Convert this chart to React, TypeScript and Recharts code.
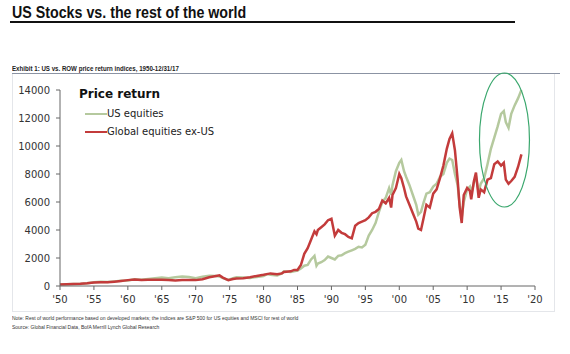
import { LineChart, Line, XAxis, YAxis, ReferenceDot } from 'recharts';

const years = [
  1950, 1951, 1952, 1953, 1954, 1955, 1956, 1957, 1958, 1959,
  1960, 1961, 1962, 1963, 1964, 1965, 1966, 1967, 1968, 1969,
  1970, 1971, 1972, 1973, 1973.5, 1974, 1974.8, 1975.5, 1976, 1977,
  1978, 1979, 1980, 1980.5, 1981, 1982, 1982.7, 1983, 1984, 1984.5,
  1985, 1985.5, 1986, 1986.5, 1987, 1987.5, 1987.8, 1988, 1988.5, 1989,
  1989.5, 1990, 1990.5, 1991, 1991.5, 1992, 1992.5, 1993, 1993.5, 1994,
  1994.5, 1995, 1995.5, 1996, 1996.5, 1997, 1997.5, 1998, 1998.5, 1998.8,
  1999, 1999.5, 2000, 2000.3, 2000.7, 2001, 2001.5, 2002, 2002.5, 2002.8,
  2003.2, 2003.6, 2004, 2004.5, 2005, 2005.5, 2006, 2006.5, 2007, 2007.4,
  2007.8, 2008.2, 2008.6, 2008.9, 2009.2, 2009.5, 2010, 2010.4, 2010.6, 2011,
  2011.3, 2011.7, 2012, 2012.5, 2013, 2013.5, 2014, 2014.5, 2015, 2015.4,
  2015.7, 2016.1, 2016.5, 2017, 2017.5, 2018,
];

const usEquities = [
  100, 120, 140, 150, 200, 270, 300, 280, 330, 380,
  400, 480, 440, 500, 560, 600, 560, 620, 680, 640,
  560, 660, 740, 720, 680, 560, 440, 560, 620, 600,
  580, 650, 720, 850, 800, 750, 900, 1050, 1000, 1050,
  1100, 1250, 1450, 1500, 1900, 2150, 1450, 1600, 1700, 1850,
  2100, 2000, 1900, 2150, 2200, 2350, 2450, 2550, 2650, 2800,
  2750, 2950, 3600, 4000, 4500, 5300, 6000, 6300, 7000, 6500,
  7200, 8200, 8800, 9000, 8200, 7800, 7200, 6500, 5800, 5100,
  5300, 6000, 6600, 6700, 7100, 7300, 7800, 8000, 8800, 9100,
  9000, 8000, 7200, 5800, 4900, 6000, 6900, 7100, 6600, 7400,
  7800, 6700, 7300, 7700, 8700, 9800, 10600, 11400, 12300, 12500,
  11700, 11300, 12300, 12900, 13400, 14000,
];

const globalExUS = [
  100, 130, 150, 160, 190, 250, 270, 260, 310, 360,
  420, 470, 430, 440, 450, 440, 420, 400, 420, 430,
  420, 480, 620, 720, 760, 600, 420, 500, 540, 560,
  620, 720, 800, 850, 900, 840, 900, 1000, 1050, 1150,
  1150, 1500, 2300, 2700, 3300, 3900, 3700, 4000, 4200, 4400,
  4700, 4800, 3600, 4000, 3800, 3700, 3500, 3400, 4300, 4500,
  4600, 4700, 4900, 5200, 5300, 5500, 6100, 5900, 6300, 5600,
  6500, 7000, 8000, 7700, 7000, 6400, 5800, 5200, 4600, 4100,
  4000, 4900, 5800, 5600, 6600, 6900, 7700, 8600, 9800, 10500,
  10900, 9700, 7600, 5600, 4500, 6500, 7000, 6800, 6200, 7500,
  8100, 6300, 6900, 6700, 7600, 7700, 8700, 8900, 8600, 8800,
  7600, 7300, 7500, 7800, 8500, 9400,
];

const yTicks = [0, 2000, 4000, 6000, 8000, 10000, 12000, 14000];
const xTicks = [1950, 1955, 1960, 1965, 1970, 1975, 1980, 1985, 1990, 1995, 2000, 2005, 2010, 2015, 2020];

const US_GREEN = '#b5c99e';
const ROW_RED = '#c33b3b';

const rows = years.map((year, i) => ({ year, us: usEquities[i], row: globalExUS[i] }));

const tickStyle = { fontFamily: 'DejaVu Sans', fontSize: 10, fill: '#333' };

// condensed look: normal sans squeezed horizontally
const narrow = (sx: number) => ({ transform: `scaleX(${sx})`, transformOrigin: 'left top', whiteSpace: 'nowrap' as const });

function Ellipse(props: any) {
  const { cx, cy } = props;
  return <ellipse cx={cx} cy={cy} rx={25} ry={67} fill="none" stroke="#3aa76d" strokeWidth={1.2} />;
}

export default function App() {
  return (
    <div style={{ position: 'absolute', left: 0, top: 0, width: 570, height: 354, background: '#fff', overflow: 'hidden' }}>
      <div style={{ position: 'absolute', left: 12, top: 4, lineHeight: '18px', fontFamily: 'Liberation Sans', fontWeight: 700, fontSize: 16, color: '#111', ...narrow(0.89) }}>
        US Stocks vs. the rest of the world
      </div>
      <div style={{ position: 'absolute', left: 10, top: 21, width: 505, height: 2, background: '#111' }} />
      <div style={{ position: 'absolute', left: 12, top: 64, lineHeight: '9px', fontFamily: 'Liberation Sans', fontWeight: 700, fontSize: 7.5, color: '#222', ...narrow(0.82) }}>
        Exhibit 1: US vs. ROW price return indices, 1950-12/31/17
      </div>
      <div style={{ position: 'absolute', left: 12, top: 73, width: 548, height: 1, background: '#8b93a3' }} />
      <div style={{ position: 'absolute', left: 12, top: 74, width: 543, height: 238, borderLeft: '1px solid #e4e6ea', borderRight: '1px solid #e4e6ea', borderBottom: '1px solid #e4e6ea', boxSizing: 'border-box' }} />
      <div style={{ position: 'absolute', left: 0, top: 0 }}>
        <LineChart width={570} height={354} data={rows} margin={{ top: 90, right: 35, bottom: 38, left: 12 }}>
          <XAxis
            dataKey="year"
            type="number"
            domain={[1950, 2020]}
            ticks={xTicks}
            tickFormatter={(v: number) => `'${String(v).slice(2)}`}
            tick={tickStyle}
            tickSize={4}
            tickMargin={6}
            stroke="#666"
            height={30}
          />
          <YAxis
            domain={[0, 14000]}
            ticks={yTicks}
            tick={tickStyle}
            tickSize={4}
            tickMargin={6}
            stroke="#666"
            width={48}
          />
          <Line type="linear" dataKey="us" stroke={US_GREEN} strokeWidth={2.5} dot={false} isAnimationActive={false} />
          <Line type="linear" dataKey="row" stroke={ROW_RED} strokeWidth={2.5} dot={false} isAnimationActive={false} />
          <ReferenceDot x={2015.5} y={10430} shape={<Ellipse />} />
        </LineChart>
      </div>
      <div style={{ position: 'absolute', left: 79, top: 87, lineHeight: '15px', fontFamily: 'DejaVu Sans', fontWeight: 700, fontSize: 12, color: '#111' }}>
        Price return
      </div>
      {[{ label: 'US equities', color: US_GREEN, top: 114 }, { label: 'Global equities ex-US', color: ROW_RED, top: 132 }].map(item => (
        <div key={item.label} style={{ position: 'absolute', left: 85, top: item.top - 7, height: 14, lineHeight: '14px', display: 'flex', alignItems: 'center', fontFamily: 'DejaVu Sans', fontSize: 10, color: '#222', whiteSpace: 'nowrap' }}>
          <span style={{ display: 'inline-block', width: 22, height: 2, background: item.color }} />
          <span>{item.label}</span>
        </div>
      ))}
      <div style={{ position: 'absolute', left: 12, top: 314, fontFamily: 'Liberation Sans', fontSize: 5.6, color: '#333', lineHeight: '9px', ...narrow(0.89) }}>
        <div>Note: Rest of world performance based on developed markets; the indices are S&amp;P 500 for US equities and MSCI for rest of world</div>
        <div>Source: Global Financial Data, BofA Merrill Lynch Global Research</div>
      </div>
    </div>
  );
}
